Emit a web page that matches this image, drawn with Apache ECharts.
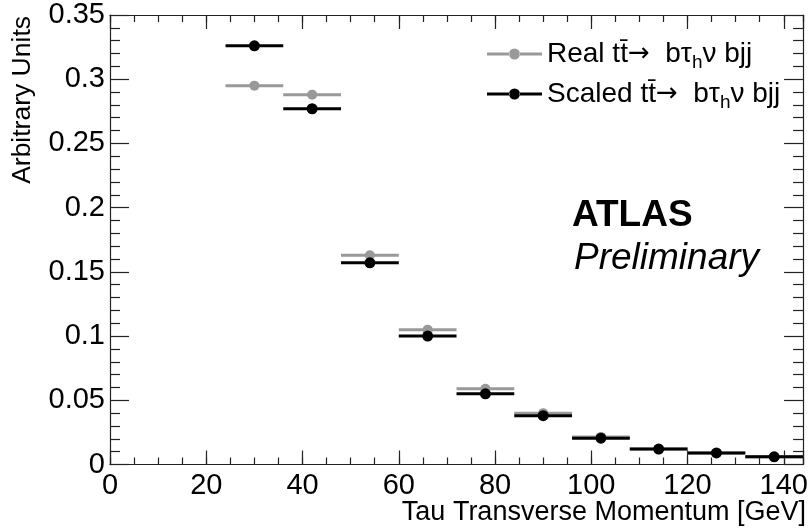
<!DOCTYPE html>
<html>
<head>
<meta charset="utf-8">
<script src="https://cdn.jsdelivr.net/npm/echarts@6/dist/echarts.min.js"></script>
<style>
  html, body { margin: 0; padding: 0; background: #fff; }
  #chart { width: 811px; height: 529px; }
</style>
</head>
<body>
<div id="chart"></div>
<script>
// Tau pT spectrum: real vs. scaled ttbar -> b tau_h nu bjj, 12 GeV bins
const binCenters = [30, 42, 54, 66, 78, 90, 102, 114, 126, 138];
const binHalfWidth = 6;
const realValues   = [0.295, 0.288, 0.163, 0.105, 0.059, 0.040, 0.0215, 0.012, 0.009, 0.006];
const scaledValues = [0.326, 0.277, 0.157, 0.100, 0.055, 0.038, 0.0205, 0.012, 0.009, 0.006];
const xTickLabels = ['0', '20', '40', '60', '80', '100', '120', '140'];
const yTickLabels = ['0', '0.05', '0.1', '0.15', '0.2', '0.25', '0.3', '0.35'];

const FONT = 'Liberation Sans, Arial, sans-serif';
const AXIS_COLOR = '#222';
const REAL_COLOR = '#999999';
const SCALED_COLOR = '#000000';

function points(values) {
  return binCenters.map((x, i) => [x, values[i]]);
}

// Horizontal bin-width bar with a marker at the bin centre
function binRenderer(lineWidth, radius) {
  return function (params, api) {
    const x = api.value(0), y = api.value(1);
    const p0 = api.coord([x - binHalfWidth, y]);
    const p1 = api.coord([x + binHalfWidth, y]);
    const c = api.coord([x, y]);
    const color = api.visual('color');
    return {
      type: 'group',
      children: [
        { type: 'line', shape: { x1: p0[0], y1: p0[1], x2: p1[0], y2: p1[1] },
          style: { stroke: color, lineWidth: lineWidth } },
        { type: 'circle', shape: { cx: c[0], cy: c[1], r: radius },
          style: { fill: color } }
      ]
    };
  };
}

const xMajor = { min: 0, max: 144, interval: 20 };
const xMinor = { min: 0, max: 144, interval: 5 };

function xLabel(v) {
  const i = Math.round(v / 20);
  return (Math.abs(v - i * 20) < 1e-6 && i < xTickLabels.length) ? xTickLabels[i] : '';
}
function yLabel(v) {
  const i = Math.round(v / 0.05);
  return yTickLabels[i] !== undefined ? yTickLabels[i] : '';
}

// legend key: bar, marker, bar (non-overlapping so the fill stays solid)
const legendIcon = 'path://M0,6.5h22.5v3h-22.5z M32.5,6.5h22.5v3h-22.5z M22,8 a5.5,5.5 0 1,0 11,0 a5.5,5.5 0 1,0 -11,0z';

const chart = echarts.init(document.getElementById('chart'), null, { renderer: 'canvas' });
chart.setOption({
  animation: false,
  backgroundColor: '#ffffff',
  grid: { left: 110, right: 5, top: 15, bottom: 64.5, containLabel: false },
  xAxis: [
    Object.assign({ type: 'value', position: 'bottom', gridIndex: 0,
      axisLine: { show: true, onZero: false, lineStyle: { color: AXIS_COLOR, width: 1.2 } },
      axisTick: { show: true, inside: true, length: 14, lineStyle: { color: AXIS_COLOR, width: 1.2 } },
      axisLabel: { show: true, formatter: xLabel, color: '#000', fontFamily: FONT, fontSize: 29, margin: 7 },
      splitLine: { show: false } }, xMajor),
    Object.assign({ type: 'value', position: 'bottom', gridIndex: 0,
      axisLine: { show: false, onZero: false },
      axisTick: { show: true, inside: true, length: 7, lineStyle: { color: AXIS_COLOR, width: 1.2 } },
      axisLabel: { show: false }, splitLine: { show: false } }, xMinor),
    Object.assign({ type: 'value', position: 'top', gridIndex: 0,
      axisLine: { show: true, onZero: false, lineStyle: { color: AXIS_COLOR, width: 1.2 } },
      axisTick: { show: true, inside: true, length: 14, lineStyle: { color: AXIS_COLOR, width: 1.2 } },
      axisLabel: { show: false }, splitLine: { show: false } }, xMajor),
    Object.assign({ type: 'value', position: 'top', gridIndex: 0,
      axisLine: { show: false, onZero: false },
      axisTick: { show: true, inside: true, length: 7, lineStyle: { color: AXIS_COLOR, width: 1.2 } },
      axisLabel: { show: false }, splitLine: { show: false } }, xMinor)
  ],
  yAxis: [
    { type: 'value', position: 'left', min: 0, max: 0.35, interval: 0.05,
      axisLine: { show: true, onZero: false, lineStyle: { color: AXIS_COLOR, width: 1.2 } },
      axisTick: { show: true, inside: true, length: 19, lineStyle: { color: AXIS_COLOR, width: 1.2 } },
      minorTick: { show: true, splitNumber: 5, length: 10, lineStyle: { color: AXIS_COLOR, width: 1.2 } },
      axisLabel: { show: true, formatter: yLabel, color: '#000', fontFamily: FONT, fontSize: 29, margin: 5 },
      splitLine: { show: false }, minorSplitLine: { show: false } },
    { type: 'value', position: 'right', min: 0, max: 0.35, interval: 0.05,
      axisLine: { show: true, onZero: false, lineStyle: { color: AXIS_COLOR, width: 1.2 } },
      axisTick: { show: true, inside: true, length: 19, lineStyle: { color: AXIS_COLOR, width: 1.2 } },
      minorTick: { show: true, splitNumber: 5, length: 10, lineStyle: { color: AXIS_COLOR, width: 1.2 } },
      axisLabel: { show: false },
      splitLine: { show: false }, minorSplitLine: { show: false } }
  ],
  legend: {
    orient: 'vertical',
    left: 482, top: 35,
    itemWidth: 55, itemHeight: 16, itemGap: 8,
    selectedMode: false,
    data: [
      { name: 'Real', icon: legendIcon },
      { name: 'Scaled', icon: legendIcon }
    ],
    formatter: function (name) {
      return name + ' t{ov|t\u0304}{ar|\u2192}  b{g|\u03c4}{sub|h}{g|\u03bd} bjj';
    },
    textStyle: {
      color: '#000', fontFamily: FONT, fontSize: 28,
      rich: {
        ov: { fontFamily: FONT, fontSize: 28, color: '#000' },
        ar: { fontFamily: 'DejaVu Sans, sans-serif', fontSize: 26, color: '#000' },
        g: { fontFamily: FONT, fontSize: 28, color: '#000' },
        sub: { fontFamily: FONT, fontSize: 19, color: '#000', padding: [17, 0, 0, 0] }
      }
    }
  },
  graphic: [
    { type: 'text', left: 572, top: 197,
      style: { text: 'ATLAS', fill: '#000', font: 'bold 37px ' + FONT } },
    { type: 'text', left: 574, top: 240,
      style: { text: 'Preliminary', fill: '#000', font: 'italic 37px ' + FONT } },
    { type: 'text', x: 806, y: 513,
      style: { text: 'Tau Transverse Momentum [GeV]', fill: '#000', font: '27px ' + FONT,
        align: 'right', verticalAlign: 'middle' } },
    { type: 'text', x: 23, y: 16, rotation: Math.PI / 2,
      style: { text: 'Arbitrary Units', fill: '#000', font: '26.5px ' + FONT,
        align: 'right', verticalAlign: 'middle' } }
  ],
  series: [
    { name: 'Real', type: 'custom', xAxisIndex: 0, yAxisIndex: 0,
      itemStyle: { color: REAL_COLOR },
      renderItem: binRenderer(3, 5),
      encode: { x: 0, y: 1 },
      data: points(realValues) },
    { name: 'Scaled', type: 'custom', xAxisIndex: 0, yAxisIndex: 0,
      itemStyle: { color: SCALED_COLOR },
      renderItem: binRenderer(3, 5.5),
      encode: { x: 0, y: 1 },
      data: points(scaledValues) }
  ]
});
</script>
</body>
</html>
